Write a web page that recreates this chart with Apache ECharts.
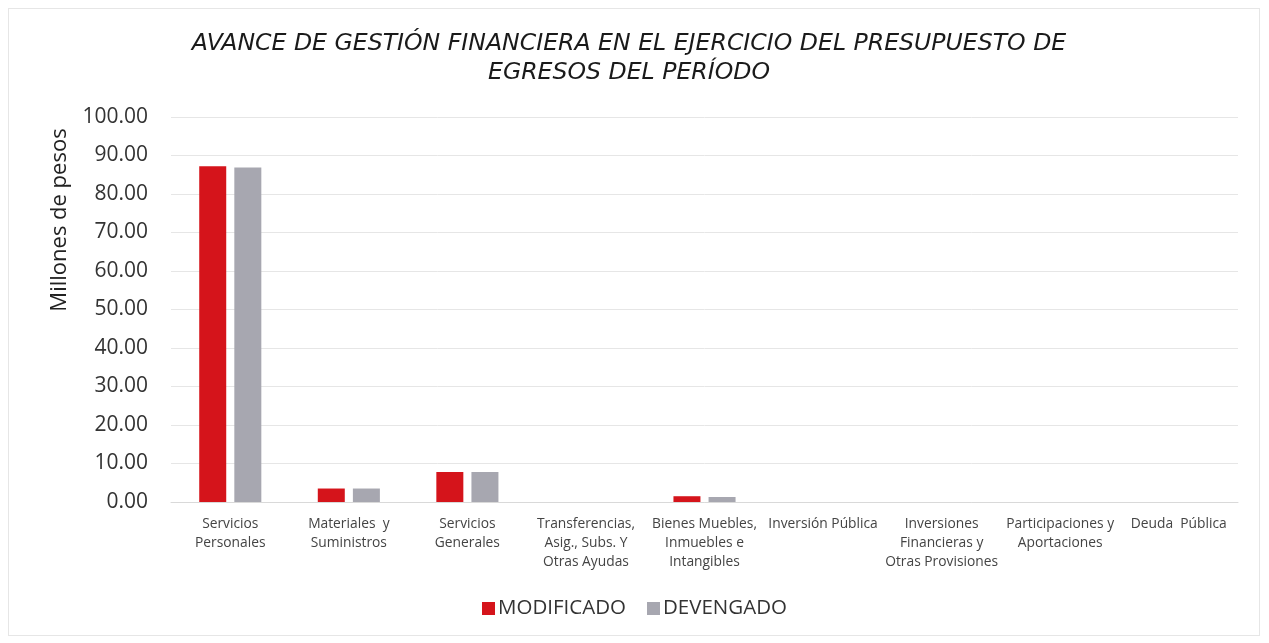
<!DOCTYPE html>
<html>
<head>
<meta charset="utf-8">
<script src="https://cdn.jsdelivr.net/npm/echarts@6/dist/echarts.min.js"></script>
<style>
  html, body { margin: 0; padding: 0; background: #fff; }
  #chart { width: 1269px; height: 643px; }
  #frame { position: absolute; left: 8px; top: 8px; width: 1250px; height: 626px; border: 1px solid #e6e6e6; pointer-events: none; }
</style>
</head>
<body>
<div id="chart"></div>
<div id="frame"></div>
<script>
// categorias del capitulo de gasto
var categorias = [
    "Servicios\nPersonales",
    "Materiales  y\nSuministros",
    "Servicios\nGenerales",
    "Transferencias,\nAsig., Subs. Y\nOtras Ayudas",
    "Bienes Muebles,\nInmuebles e\nIntangibles",
    "Inversión Pública",
    "Inversiones\nFinancieras y\nOtras Provisiones",
    "Participaciones y\nAportaciones",
    "Deuda  Pública"
];
// millones de pesos
var modificado = [87.2, 3.5, 7.8, 0, 1.5, 0, 0, 0, 0];
var devengado = [86.9, 3.5, 7.8, 0, 1.3, 0, 0, 0, 0];
var ticksY = [0, 10, 20, 30, 40, 50, 60, 70, 80, 90, 100];

var myChart = echarts.init(document.getElementById("chart"));
myChart.setOption({
    animation: false,
    title: {
        text: "AVANCE DE GESTIÓN FINANCIERA EN EL EJERCICIO DEL PRESUPUESTO DE\nEGRESOS DEL PERÍODO",
        left: 624,
        textAlign: "center",
        top: 24,
        textStyle: {
            fontFamily: "DejaVu Sans",
            fontStyle: "italic",
            fontWeight: "normal",
            fontSize: 23.6,
            lineHeight: 29,
            color: "#1a1a1a"
        }
    },
    //eje y: nombre girado
    graphic: [{
        type: "text",
        x: 60,
        y: 220,
        rotation: Math.PI / 2,
        style: {
            text: "Millones de pesos",
            fontFamily: "Open Sans",
            fontSize: 22,
            fill: "#222",
            align: "center",
            verticalAlign: "middle"
        }
    }],
    legend: {
        top: 593,
        left: "center",
        itemWidth: 13,
        itemHeight: 13,
        itemGap: 21,
        icon: "rect",
        textStyle: { fontFamily: "Open Sans", fontSize: 20.5, color: "#333", padding: [0, 0, 0, -2] },
        data: ["MODIFICADO", "DEVENGADO"]
    },
    grid: { left: 171, right: 31, top: 117, bottom: 141 },
    xAxis: {
        type: "category",
        data: categorias,
        axisTick: { show: false },
        axisLine: { lineStyle: { color: "#d9d9d9" } },
        axisLabel: {
            interval: 0,
            fontFamily: "Open Sans",
            fontSize: 13.8,
            lineHeight: 19,
            color: "#444",
            margin: 13
        }
    },
    yAxis: {
        type: "value",
        min: ticksY[0],
        max: ticksY[ticksY.length - 1],
        interval: 10,
        axisLabel: {
            fontFamily: "Open Sans",
            fontSize: 21,
            color: "#333",
            margin: 23,
            formatter: function (v) { return v.toFixed(2); }
        },
        splitLine: { lineStyle: { color: "#e6e6e6" } }
    },
    series: [
        {
            name: "MODIFICADO",
            type: "bar",
            data: modificado,
            barWidth: 27,
            barGap: "30%",
            itemStyle: { color: "#d5141b" }
        },
        {
            name: "DEVENGADO",
            type: "bar",
            data: devengado,
            barWidth: 27,
            itemStyle: { color: "#a7a7b0" }
        }
    ]
});
</script>
</body>
</html>
